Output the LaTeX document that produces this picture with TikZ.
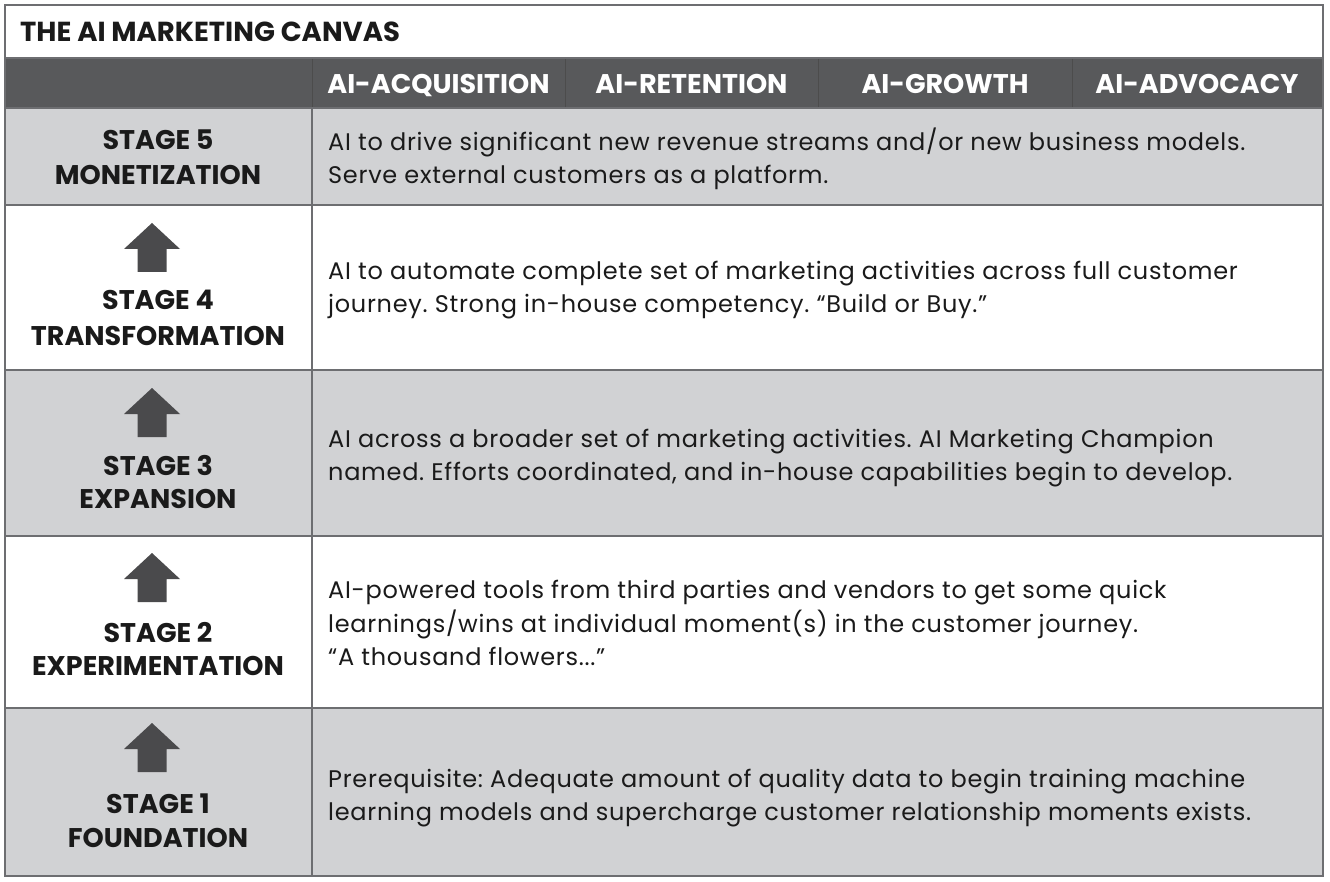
\documentclass[tikz,border=0pt]{standalone}
\usepackage{fontspec}
\setmainfont{Poppins}
\newfontfamily\bodyfont[LetterSpace=3.0]{Poppins}
\definecolor{hdrgray}{HTML}{58595B}
\definecolor{rowgray}{HTML}{D1D2D4}
\definecolor{linegray}{HTML}{6D6E71}
\definecolor{arrowc}{HTML}{4A4A4C}
\definecolor{txt}{HTML}{1A1A1A}
\tikzset{
  body/.style={anchor=base west, inner sep=0pt, text=txt, font=\bodyfont\fontsize{24}{24}\selectfont\frenchspacing},
  stagelbl/.style={anchor=base, inner sep=0pt, text=txt, font=\fontsize{27}{27}\selectfont\bfseries},
  hdr/.style={anchor=base, inner sep=0pt, text=white, font=\fontsize{27}{27}\selectfont\bfseries},
  ttl/.style={anchor=base west, inner sep=0pt, text=txt, font=\fontsize{27.5}{27.5}\selectfont\bfseries},
  gridline/.style={draw=linegray, line width=1.4pt},
  hdrline/.style={draw=black!70, line width=1pt},
  uparrow/.pic={\fill[arrowc] (0,0) -- (28,26) -- (14.5,26) -- (14.5,49) -- (-14.5,49) -- (-14.5,26) -- (-28,26) -- cycle;}
}
\begin{document}
\begin{tikzpicture}[x=1pt,y=-1pt]
\useasboundingbox (0,0) rectangle (1330,882);
% backgrounds
\fill[white] (5,5) rectangle (1323,58);
\fill[hdrgray] (5,58) rectangle (1323,108);
\fill[rowgray] (5,108) rectangle (1323,205);
\fill[white] (5,205) rectangle (1323,370);
\fill[rowgray] (5,370) rectangle (1323,536);
\fill[white] (5,536) rectangle (1323,708);
\fill[rowgray] (5,708) rectangle (1323,876);
% lines
\draw[hdrline] (565,58) -- (565,108) (818,58) -- (818,108) (1072,58) -- (1072,108) (312,58) -- (312,108);
\draw[gridline] (5,58) -- (1323,58) (5,108) -- (1323,108) (5,205) -- (1323,205)
  (5,370) -- (1323,370) (5,536) -- (1323,536) (5,708) -- (1323,708);
\draw[gridline] (312,108) -- (312,876);
\draw[gridline] (5,5) rectangle (1323,876);
% title and header
\node[ttl] (title) at (20,42) {THE AI MARKETING CANVAS};
\node[hdr] (h1) at (438.5,94) {AI-ACQUISITION};
\node[hdr] (h2) at (691.5,94) {AI-RETENTION};
\node[hdr] (h3) at (945,94) {AI-GROWTH};
\node[hdr] (h4) at (1197,94) {AI-ADVOCACY};
% stage 5
\node[stagelbl] (s5a) at (158,150) {STAGE 5};
\node[stagelbl] (s5b) at (158,185) {MONETIZATION};
\node[body] (b5a) at (328,151) {AI to drive significant new revenue streams and/or new business models.};
\node[body] (b5b) at (328,184) {Serve external customers as a platform.};
% stage 4
\pic at (152,223) {uparrow};
\node[stagelbl] (s4a) at (158,310) {STAGE 4};
\node[stagelbl] (s4b) at (158,345) {TRANSFORMATION};
\node[body] (b4a) at (328,280) {AI to automate complete set of marketing activities across full customer};
\node[body] (b4b) at (328,313) {journey. Strong in-house competency. “Build or Buy.”};
% stage 3
\pic at (152,388) {uparrow};
\node[stagelbl] (s3a) at (158,475) {STAGE 3};
\node[stagelbl] (s3b) at (158,508) {EXPANSION};
\node[body] (b3a) at (328,447) {AI across a broader set of marketing activities. AI Marketing Champion};
\node[body] (b3b) at (328,480) {named. Efforts coordinated, and in-house capabilities begin to develop.};
% stage 2
\pic at (152,553) {uparrow};
\node[stagelbl] (s2a) at (158,642) {STAGE 2};
\node[stagelbl] (s2b) at (158,675) {EXPERIMENTATION};
\node[body] (b2a) at (328,598) {AI-powered tools from third parties and vendors to get some quick};
\node[body] (b2b) at (328,632) {learnings/wins at individual moment(s) in the customer journey.};
\node[body] (b2c) at (328,665) {“A thousand flowers...”};
% stage 1
\pic at (152,723) {uparrow};
\node[stagelbl] (s1a) at (158,813) {STAGE 1};
\node[stagelbl] (s1b) at (158,847) {FOUNDATION};
\node[body] (b1a) at (328,787) {Prerequisite: Adequate amount of quality data to begin training machine};
\node[body] (b1b) at (328,820) {learning models and supercharge customer relationship moments exists.};
\end{tikzpicture}
\end{document}
